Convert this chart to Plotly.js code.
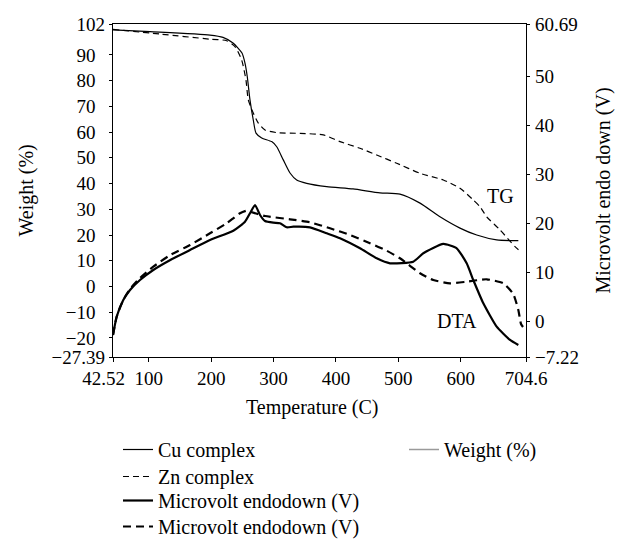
<!DOCTYPE html>
<html>
<head>
<meta charset="utf-8">
<script src="https://cdn.plot.ly/plotly-3.0.1.min.js"></script>
<style>html,body{margin:0;padding:0;background:#fff;}#chart{width:618px;height:539px;}</style>
</head>
<body>
<div id="chart"></div>
<script>
// ---- Data ----
var tempCuTG   = [42.5, 101.8, 198.0, 218.9, 234.9, 249.3, 254.1, 257.8, 262.1, 267.4, 271.8, 280.9, 296.9, 305.0, 315.5, 326.3, 337.0, 353.0, 385.1, 427.3, 470.5, 502.6, 534.7, 566.7, 598.8, 625.6, 657.6, 692.3];
var weightCuTG = [99.7, 99.0, 97.7, 96.8, 94.6, 90.7, 86.8, 81.5, 72.5, 64.7, 59.6, 57.7, 56.3, 54.3, 49.2, 44.1, 41.4, 40.1, 38.8, 37.9, 36.4, 35.9, 32.4, 27.1, 22.7, 20.0, 18.1, 17.8];

var tempZnTG   = [42.5, 117.9, 198.0, 224.8, 238.1, 248.8, 255.7, 259.4, 267.4, 275.5, 286.2, 305.0, 342.3, 379.7, 406.4, 438.5, 465.3, 497.3, 534.7, 572.0, 598.8, 620.1, 630.9, 641.6, 662.9, 687.0, 696.6];
var weightZnTG = [99.9, 98.1, 96.1, 95.5, 93.2, 88.0, 80.2, 72.5, 67.4, 63.5, 60.8, 59.8, 59.5, 58.9, 56.3, 53.7, 51.1, 47.9, 44.0, 41.4, 38.2, 33.6, 31.0, 27.1, 22.0, 15.5, 13.5];

var tempCuDTA  = [42.5, 48.4, 59.0, 69.8, 85.8, 107.1, 134.4, 166.0, 198.0, 235.4, 254.1, 262.1, 270.2, 278.2, 286.2, 299.5, 310.2, 321.0, 331.6, 358.3, 385.1, 406.4, 438.5, 465.3, 486.6, 523.9, 540.0, 572.0, 593.5, 609.5, 620.1, 636.2, 657.6, 679.0, 692.3];
var voltCuDTA  = [-2.73, 1.0, 4.41, 6.44, 8.48, 10.52, 12.56, 14.6, 16.64, 18.54, 20.37, 22.09, 23.78, 21.74, 20.52, 20.17, 20.05, 19.23, 19.35, 19.23, 18.01, 17.0, 14.95, 12.91, 11.89, 12.22, 13.93, 15.83, 14.95, 11.89, 8.48, 3.73, -1.04, -3.75, -4.77];

var tempZnDTA  = [42.5, 48.4, 59.0, 69.8, 85.8, 107.1, 134.4, 166.0, 198.0, 224.8, 246.1, 256.9, 262.1, 286.2, 326.3, 358.3, 390.4, 422.5, 454.5, 481.3, 502.6, 534.7, 556.0, 582.7, 609.5, 641.6, 668.2, 684.2, 692.3, 696.6, 699.8];
var voltZnDTA  = [-2.73, 1.0, 4.41, 6.65, 8.89, 11.2, 13.58, 15.62, 18.01, 20.05, 22.09, 22.62, 22.41, 21.53, 20.86, 20.25, 19.03, 17.66, 15.97, 14.46, 12.91, 9.85, 8.48, 7.81, 8.14, 8.63, 7.81, 5.63, 2.36, -0.49, -1.1];

// "Weight (%)" appears only as a legend entry in the reference (no drawn data)
var weightLegendX = [null];
var weightLegendY = [null];

var xTickVals  = [42.52, 100, 200, 300, 400, 500, 600, 704.6];
var xTickText  = ["42.52\u00a0\u00a0\u00a0\u00a0", "100", "200", "300", "400", "500", "600", "704.6"];
var yTickVals  = [-27.39, -20, -10, 0, 10, 20, 30, 40, 50, 60, 70, 80, 90, 102];
var yTickText  = ["\u221227.39", "\u221220\u00a0\u00a0", "\u221210\u00a0\u00a0", "0\u00a0\u00a0", "10\u00a0\u00a0", "20\u00a0\u00a0", "30\u00a0\u00a0", "40\u00a0\u00a0", "50\u00a0\u00a0", "60\u00a0\u00a0", "70\u00a0\u00a0", "80\u00a0\u00a0", "90\u00a0\u00a0", "102"];
var y2TickVals = [-7.22, 0, 10, 20, 30, 40, 50, 60.69];
var y2TickText = ["\u22127.22", "0", "10", "20", "30", "40", "50", "60.69"];

var seriesNames = ["Cu complex", "Zn complex", "Microvolt endodown (V)", "Microvolt endodown (V)", "Weight (%)"];

// ---- Styling ----
var FONT = "Liberation Serif, Times New Roman, serif";
var FS = 20;
var TFS = 19;

var traces = [
  {x: tempCuTG, y: weightCuTG, name: seriesNames[0], type: 'scatter', mode: 'lines',
   line: {color: '#000', width: 1.2, shape: 'spline', smoothing: 0.6}, legend: 'legend'},
  {x: tempZnTG, y: weightZnTG, name: seriesNames[1], type: 'scatter', mode: 'lines',
   line: {color: '#000', width: 1.2, dash: '6px,4px', shape: 'spline', smoothing: 0.6}, legend: 'legend2'},
  {x: tempCuDTA, y: voltCuDTA, name: seriesNames[2], type: 'scatter', mode: 'lines', yaxis: 'y2',
   line: {color: '#000', width: 2.2, shape: 'spline', smoothing: 0.5}, legend: 'legend3'},
  {x: tempZnDTA, y: voltZnDTA, name: seriesNames[3], type: 'scatter', mode: 'lines', yaxis: 'y2',
   line: {color: '#000', width: 2.2, dash: '8px,5px', shape: 'spline', smoothing: 0.5}, legend: 'legend4'},
  {x: weightLegendX, y: weightLegendY, name: seriesNames[4], type: 'scatter', mode: 'lines',
   line: {color: '#9a9a9a', width: 1.5}, legend: 'legend5', showlegend: true}
];

var axisCommon = {
  showgrid: false, zeroline: false, showline: true, linecolor: '#000', linewidth: 1.3,
  ticks: 'outside', ticklen: 3, tickwidth: 1, tickcolor: '#000', automargin: false,
  tickfont: {family: FONT, size: TFS, color: '#000'}, fixedrange: true
};

function legendAt(px, pyTop) {
  return {
    xref: 'container', yref: 'container', x: px / 618, y: 1 - pyTop / 539,
    xanchor: 'left', yanchor: 'top', orientation: 'v',
    bgcolor: 'rgba(0,0,0,0)', borderwidth: 0,
    font: {family: FONT, size: FS, color: '#000'}
  };
}

function titleNote(text, pxCenterX, pxCenterY, angle) {
  return {
    x: (pxCenterX - 113) / 413, y: 1 - (pxCenterY - 24) / 333, xref: 'paper', yref: 'paper',
    text: text, textangle: angle, showarrow: false, xanchor: 'center', yanchor: 'middle',
    font: {family: FONT, size: FS, color: '#000'}
  };
}

var layout = {
  width: 618, height: 539,
  margin: {l: 113, r: 92, t: 24, b: 182, pad: 0, autoexpand: false},
  paper_bgcolor: '#fff', plot_bgcolor: '#fff',
  font: {family: FONT, size: FS, color: '#000'},
  xaxis: Object.assign({}, axisCommon, {
    range: [42.52, 704.6], tickmode: 'array', tickvals: xTickVals, ticktext: xTickText,
    mirror: true, ticklen: 4, tickangle: 0
  }),
  yaxis: Object.assign({}, axisCommon, {
    range: [-27.39, 102], tickmode: 'array', tickvals: yTickVals, ticktext: yTickText
  }),
  yaxis2: Object.assign({}, axisCommon, {
    range: [-7.22, 60.69], tickmode: 'array', tickvals: y2TickVals, ticktext: y2TickText,
    overlaying: 'y', side: 'right', ticklabelstandoff: 1
  }),
  showlegend: true,
  legend:  legendAt(118, 430),
  legend2: legendAt(118, 457),
  legend3: legendAt(118, 481),
  legend4: legendAt(118, 507),
  legend5: legendAt(404, 430),
  annotations: [
    titleNote('Weight (%)', 26, 190.5, -90),
    titleNote('Microvolt endo down (V)', 603, 190.5, -90),
    titleNote('Temperature (C)', 311.5, 407, 0),
    {x: 663.7, y: 35.2, xref: 'x', yref: 'y', text: 'TG', showarrow: false,
     font: {family: FONT, size: FS, color: '#000'}},
    {x: 594, y: -13.4, xref: 'x', yref: 'y', text: 'DTA', showarrow: false,
     font: {family: FONT, size: FS, color: '#000'}}
  ]
};

Plotly.newPlot('chart', traces, layout, {displayModeBar: false, staticPlot: true});
</script>
</body>
</html>
